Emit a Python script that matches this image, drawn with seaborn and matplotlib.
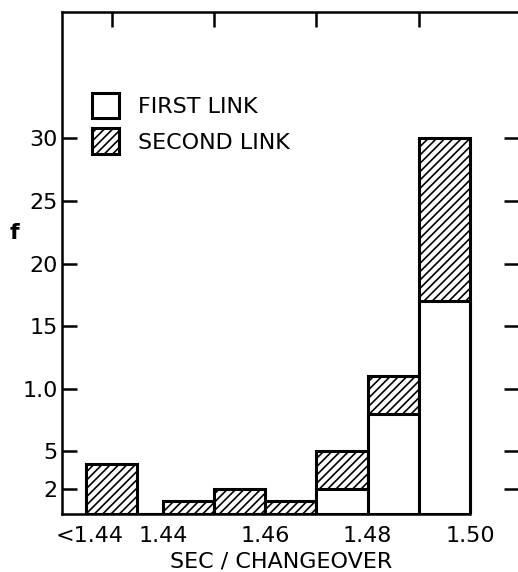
import numpy as np
import pandas as pd
import matplotlib
matplotlib.use("Agg")
import matplotlib.pyplot as plt
from matplotlib.patches import Patch
import seaborn as sns

# ---- data ----
bin_edges = [1.425, 1.435, 1.44, 1.45, 1.46, 1.47, 1.48, 1.49, 1.50]
bin_centers = [1.43, 1.4375, 1.445, 1.455, 1.465, 1.475, 1.485, 1.495]
first_link = [0, 0, 0, 0, 0, 2, 8, 17]
second_link = [4, 0, 1, 2, 1, 3, 3, 13]
total = [f + s for f, s in zip(first_link, second_link)]

y_ticks = [2, 5, 10, 15, 20, 25, 30]
y_ticklabels = ["2", "5", "1.0", "15", "20", "25", "30"]
x_ticks = [1.4257, 1.44, 1.46, 1.48, 1.50]
x_ticklabels = ["<1.44", "1.44", "1.46", "1.48", "1.50"]
top_ticks = [1.43, 1.44, 1.45, 1.46, 1.47, 1.48, 1.49, 1.50]
legend_labels = ["FIRST LINK", "SECOND LINK"]
x_label = "SEC / CHANGEOVER"
y_label = "f"

df = pd.DataFrame({"x": bin_centers, "first": first_link, "total": total})

sns.set_style("ticks")
plt.rcParams["font.family"] = ["DejaVu Sans"]
plt.rcParams["hatch.linewidth"] = 1.2
plt.rcParams["hatch.color"] = "black"
plt.rcParams["text.color"] = "black"
plt.rcParams["axes.labelcolor"] = "black"
plt.rcParams["xtick.color"] = "black"
plt.rcParams["ytick.color"] = "black"

fig = plt.figure(figsize=(5.18, 5.72), dpi=100)
ax = fig.add_axes([62 / 518, 58 / 572, 457 / 518, 502 / 572])

FS = 16
LW = 2.2
HATCH = "////"

# total (hatched = second link stacked on first)
sns.histplot(data=df, x="x", weights="total", bins=bin_edges, ax=ax,
             color="white", edgecolor="black", linewidth=LW, hatch=HATCH,
             alpha=1, fill=True)
# first link (white) covers the lower part
sns.histplot(data=df, x="x", weights="first", bins=bin_edges, ax=ax,
             color="white", edgecolor="black", linewidth=LW,
             alpha=1, fill=True)

ax.set_xlim(1.4203, 1.50957)
ax.set_ylim(0, 40.1)

for s in ["left", "top", "bottom"]:
    ax.spines[s].set_linewidth(1.8)
    ax.spines[s].set_color("black")
ax.spines["right"].set_visible(False)
ax.spines["bottom"].set_bounds(1.4203, 1.50)

ax.set_yticks(y_ticks)
ax.set_yticklabels(y_ticklabels, fontsize=FS)
ax.tick_params(axis="y", which="major", direction="in", length=11, width=1.8,
               left=True, right=True, pad=3, colors="black")

ax.set_xticks(x_ticks)
ax.set_xticklabels(x_ticklabels, fontsize=FS)
ax.tick_params(axis="x", which="major", length=0, pad=9, bottom=True, top=False,
               colors="black")
ax.set_xticks(top_ticks, minor=True)
ax.tick_params(axis="x", which="minor", direction="in", top=True, bottom=False,
               length=11, width=1.8, colors="black")

ax.set_xlabel(x_label, fontsize=FS, color="black")
ax.xaxis.set_label_coords((281 - 62) / 457, -0.075)
ax.set_ylabel(y_label, fontsize=FS, fontweight="bold", rotation=0,
              va="center", ha="center", color="black")
ax.yaxis.set_label_coords(-0.103, 0.56)

handles = [Patch(facecolor="white", edgecolor="black", linewidth=LW),
           Patch(facecolor="white", edgecolor="black", linewidth=LW, hatch=HATCH)]
leg = ax.legend(handles, legend_labels, loc="upper left",
                bbox_to_anchor=(0.066, 0.839), frameon=False, fontsize=FS,
                handlelength=1.2, handleheight=1.4, handletextpad=0.85,
                labelspacing=0.45, borderaxespad=0, borderpad=0)
for t in leg.get_texts():
    t.set_color("black")

fig.savefig("out.png", dpi=100)
